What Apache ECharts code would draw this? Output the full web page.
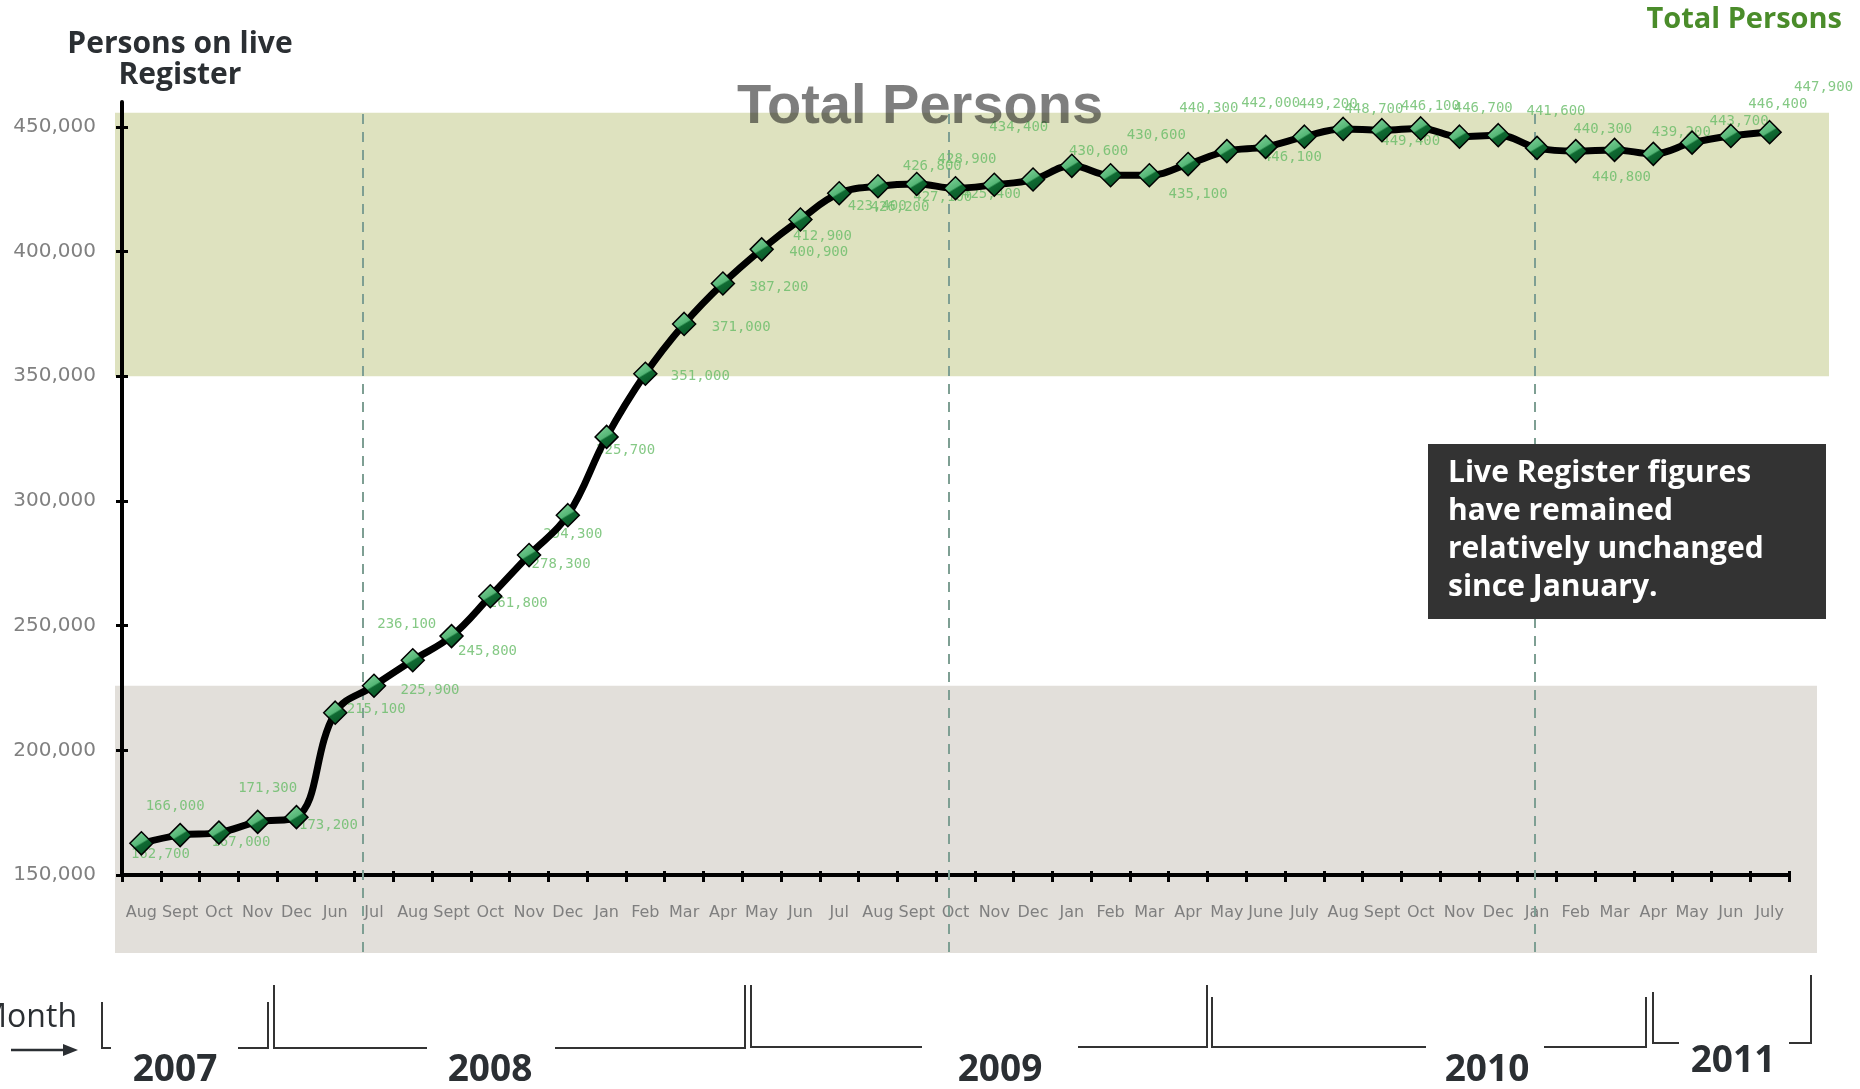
<!DOCTYPE html>
<html>
<head>
<meta charset="utf-8">
<title>Total Persons</title>
<script src="https://cdn.jsdelivr.net/npm/echarts@6.0.0/dist/echarts.min.js"></script>
<style>
  html, body { margin: 0; padding: 0; background: #fff; }
  #chart { width: 1860px; height: 1089px; }
</style>
</head>
<body>
<div id="chart"></div>
<script>
  // month labels, Aug 2007 .. July 2011
  const months = ['Aug', 'Sept', 'Oct', 'Nov', 'Dec', 'Jun', 'Jul', 'Aug', 'Sept', 'Oct', 'Nov', 'Dec',
    'Jan', 'Feb', 'Mar', 'Apr', 'May', 'Jun', 'Jul', 'Aug', 'Sept', 'Oct', 'Nov', 'Dec',
    'Jan', 'Feb', 'Mar', 'Apr', 'May', 'June', 'July', 'Aug', 'Sept', 'Oct', 'Nov', 'Dec',
    'Jan', 'Feb', 'Mar', 'Apr', 'May', 'Jun', 'July'];
  // persons on the live register
  const persons = [162700, 166000, 167000, 171300, 173200, 215100, 225900, 236100, 245800, 261800, 278300, 294300,
    325700, 351000, 371000, 387200, 400900, 412900, 423400, 426200, 427100, 425400, 426800, 428900,
    434400, 430600, 430600, 435100, 440300, 442000, 446100, 449200, 448700, 449400, 446100, 446700,
    441600, 440300, 440800, 439200, 443700, 446400, 447900];
  const yTicks = [150000, 200000, 250000, 300000, 350000, 400000, 450000];
  const years = ['2007', '2008', '2009', '2010', '2011'];

  // where each value label sits relative to its point (px)
  const labelShift = [
    [19, 11], [-5, -29], [22, 10], [10, -34], [32, 8], [41, -3], [56, 5], [-6, -36], [36, 15], [28, 7],
    [32, 9], [5, 19], [19, 13], [55, 3], [57, 3], [56, 4], [57, 3], [22, 17], [38, 13], [22, 21],
    [26, 13], [36, 6], [-62, -18], [-66, -20], [-53, -38], [-12, -24], [7, -40], [10, 30], [-18, -43], [5, -44],
    [-12, 21], [-15, -25], [-8, -21], [-10, 13], [-29, -30], [-15, -27], [19, -37], [27, -22], [7, 27], [28, -22],
    [47, -21], [47, -32], [54, -45]];

  function fmt(v) {
    return String(v).replace(/\B(?=(\d{3})+(?!\d))/g, ',');
  }

  const chart = echarts.init(document.getElementById('chart'));

  const diamondFill = {
    type: 'linear', x: 0.2, y: 0, x2: 0.8, y2: 1,
    colorStops: [
      { offset: 0, color: '#86d49e' },
      { offset: 0.47, color: '#55b676' },
      { offset: 0.53, color: '#0f6a32' },
      { offset: 1, color: '#0a5326' }
    ]
  };

  chart.setOption({
    animation: false,
    grid: { left: 122, right: 71, top: 102, bottom: 214 },
    xAxis: [{
      type: 'category',
      data: months,
      position: 'bottom',
      axisLine: { onZero: false, lineStyle: { color: '#000', width: 4 } },
      axisTick: { show: true, interval: 0, length: 7, lineStyle: { color: '#000', width: 3 } },
      axisLabel: { interval: 0, margin: 30, color: '#7f7f7f', fontFamily: 'DejaVu Sans', fontSize: 16 }
    }, {
      type: 'category',
      data: months,
      position: 'bottom',
      axisLine: { show: false },
      axisTick: { show: true, interval: 0, inside: true, length: 4, lineStyle: { color: '#000', width: 3 } },
      axisLabel: { show: false }
    }],
    yAxis: [{
      type: 'value',
      position: 'left',
      min: 150000,
      max: 460000,
      interval: 50000,
      splitLine: { show: false },
      axisLine: { show: true, lineStyle: { color: '#000', width: 4 } },
      axisTick: { show: true, customValues: yTicks, length: 6, lineStyle: { color: '#000', width: 3 } },
      axisLabel: {
        customValues: yTicks,
        formatter: fmt,
        margin: 26,
        color: '#808080',
        fontFamily: 'DejaVu Sans',
        fontSize: 20
      }
    }, {
      type: 'value',
      position: 'left',
      min: 150000,
      max: 460000,
      interval: 50000,
      splitLine: { show: false },
      axisLine: { show: false },
      axisTick: { show: true, inside: true, customValues: yTicks, length: 6, lineStyle: { color: '#000', width: 3 } },
      axisLabel: { show: false }
    }],
    series: [{
      type: 'scatter',
      silent: true,
      z: 1,
      symbolSize: 1,
      itemStyle: { color: 'rgba(0,0,0,0)' },
      data: persons.map((v, i) => ({ value: v, label: { offset: labelShift[i] } })),
      label: {
        show: true,
        position: 'inside',
        formatter: p => fmt(p.value),
        color: '#66bb66',
        fontFamily: 'DejaVu Sans Mono',
        fontSize: 14
      }
    }, {
      type: 'line',
      z: 3,
      data: persons,
      smooth: 0.4,
      symbol: 'diamond',
      symbolSize: 23,
      lineStyle: { color: '#000', width: 7 },
      itemStyle: { color: diamondFill, borderColor: '#000', borderWidth: 1.5 }
    }]
  });

  // decorations placed from the axes
  const yPx = v => chart.convertToPixel({ yAxisIndex: 0 }, v);
  const xPx = i => chart.convertToPixel({ xAxisIndex: 0 }, i);
  const step = xPx(1) - xPx(0);
  const highBand = [350000, 455700];
  const lowBand = [118700, 225900];
  const markAt = [5.72, 20.83, 35.95];

  const g = [];
  g.push({ type: 'rect', z: -10, shape: { x: 115, y: yPx(highBand[1]), width: 1714, height: yPx(highBand[0]) - yPx(highBand[1]) }, style: { fill: '#dee2bf' } });
  g.push({ type: 'rect', z: -10, shape: { x: 115, y: yPx(lowBand[1]), width: 1702, height: yPx(lowBand[0]) - yPx(lowBand[1]) }, style: { fill: '#e2dfda' } });
  markAt.forEach(f => {
    const x = Math.round(xPx(0) + f * step);
    g.push({ type: 'line', z: 1, shape: { x1: x, y1: 114, x2: x, y2: 958 }, style: { stroke: '#7e9f93', lineWidth: 2, lineDash: [10, 8] } });
  });

  // year brackets under the axis
  const brackets = [
    [[102, 1002], [102, 1048], [111, 1048]], [[238, 1048], [268, 1048], [268, 1002]],
    [[274, 985], [274, 1048], [427, 1048]], [[555, 1048], [745, 1048], [745, 985]],
    [[751, 985], [751, 1047], [922, 1047]], [[1078, 1047], [1207, 1047], [1207, 985]],
    [[1212, 997], [1212, 1047], [1426, 1047]], [[1544, 1047], [1646, 1047], [1646, 997]],
    [[1653, 992], [1653, 1043], [1679, 1043]], [[1789, 1043], [1811, 1043], [1811, 975]]
  ];
  brackets.forEach(pts => {
    g.push({ type: 'polyline', shape: { points: pts }, style: { stroke: '#333', lineWidth: 2, fill: null } });
  });
  const yearPos = [[175, 1070], [490, 1070], [1000, 1070], [1487, 1070], [1733, 1061]];
  years.forEach((t, i) => {
    g.push({ type: 'text', x: yearPos[i][0], y: yearPos[i][1], style: { text: t, font: 'bold 37px "Open Sans"', fill: '#2b2f33', align: 'center', verticalAlign: 'middle' } });
  });
  g.push({ type: 'text', x: 77, y: 1018, style: { text: 'Month', font: '32px "Open Sans"', fill: '#2b2f33', align: 'right', verticalAlign: 'middle' } });
  g.push({ type: 'line', shape: { x1: 11, y1: 1050, x2: 66, y2: 1050 }, style: { stroke: '#2b2f33', lineWidth: 2.5 } });
  g.push({ type: 'polygon', shape: { points: [[63, 1044], [78, 1050], [63, 1056]] }, style: { fill: '#2b2f33' } });

  // titles and note
  g.push({ type: 'text', z: 50, x: 180, y: 29, style: { text: 'Persons on live\nRegister', font: 'bold 30px "Open Sans"', lineHeight: 31, fill: '#2b2f33', align: 'center', verticalAlign: 'top' } });
  g.push({ type: 'text', z: 50, x: 1842, y: 20, style: { text: 'Total Persons', font: 'bold 29px "Open Sans"', fill: '#4a8c2a', align: 'right', verticalAlign: 'middle' } });
  g.push({ type: 'text', z: 50, x: 920, y: 108, style: { text: 'Total Persons', font: 'bold 56px "Liberation Sans"', fill: 'rgba(20,20,20,0.55)', align: 'center', verticalAlign: 'middle' } });
  g.push({ type: 'rect', z: 100, shape: { x: 1428, y: 444, width: 398, height: 175 }, style: { fill: '#333333' } });
  g.push({ type: 'text', z: 101, x: 1448, y: 454, style: { text: 'Live Register figures\nhave remained\nrelatively unchanged\nsince January.', font: 'bold 30px "Open Sans"', lineHeight: 38, fill: '#ffffff', align: 'left', verticalAlign: 'top' } });

  chart.setOption({ graphic: g });
</script>
</body>
</html>
